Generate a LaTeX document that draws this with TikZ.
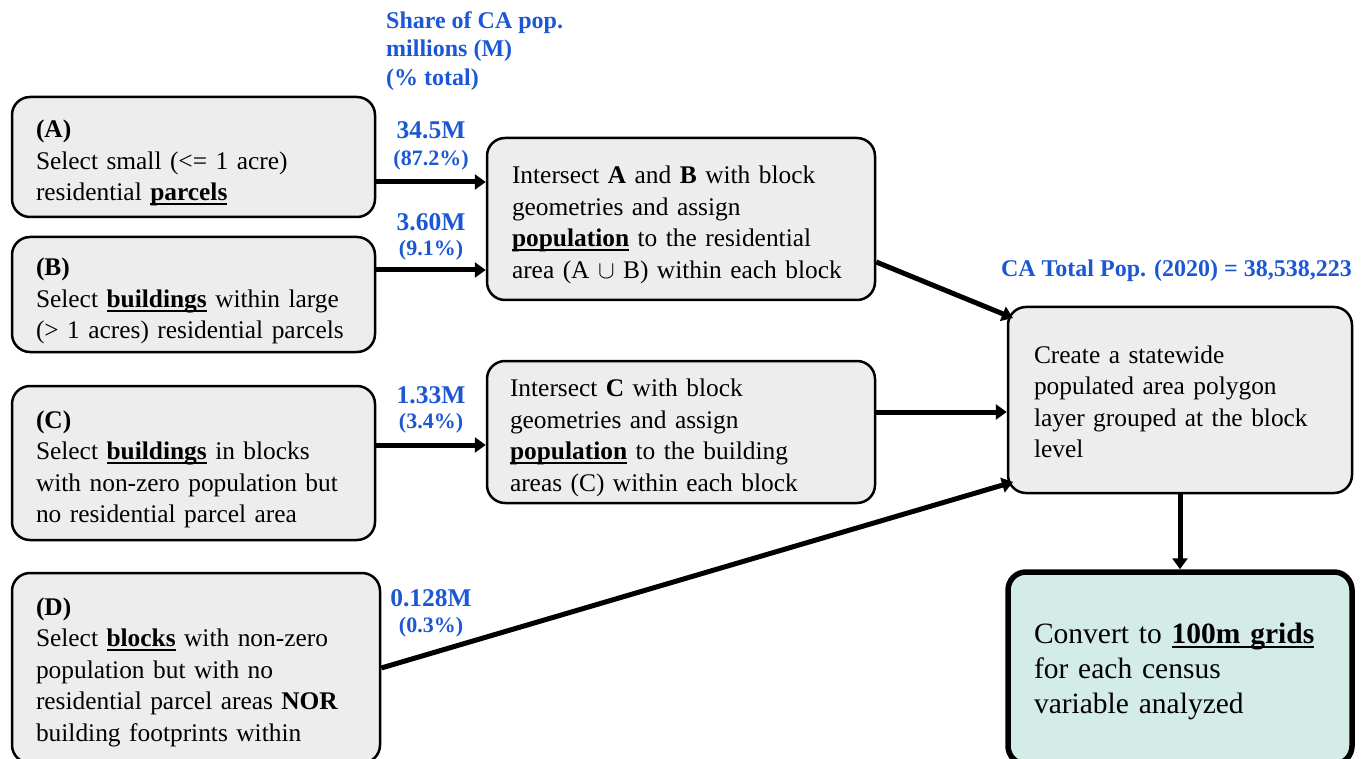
\documentclass[tikz,border=0pt]{standalone}
\usepackage{fontspec}
\setmainfont{Liberation Serif}
\usetikzlibrary{arrows.meta,calc}
\definecolor{lblue}{RGB}{28,88,212}
\definecolor{boxgray}{RGB}{237,237,237}
\definecolor{finalfill}{RGB}{212,236,231}
\newcommand\myul[1]{\leavevmode\setbox0\hbox{#1}\rlap{\rule[-4.5pt]{\wd0}{1.8pt}}\box0\relax}
\newcommand\tstrut[1]{\rule{0pt}{#1}}
\begin{document}
\begin{tikzpicture}[x=1pt,y=-1pt,
 box/.style={draw,line width=2.5pt,rounded corners=18pt,fill=boxgray,align=left,inner ysep=0pt,font=\fontsize{25.4}{31.5}\selectfont},
 flow/.style={line width=5pt,-{Triangle[length=11pt,width=15pt]}},
 num/.style={text=lblue,font=\bfseries\fontsize{25.5}{28}\selectfont,inner sep=0pt},
 pct/.style={text=lblue,font=\bfseries\fontsize{22}{24}\selectfont,inner sep=0pt},
 hdr/.style={text=lblue,font=\bfseries\fontsize{24}{28.5}\selectfont,inner sep=0pt,align=left}]
\useasboundingbox (0,0) rectangle (1368,759);

\node[box,inner xsep=24pt,text width=315pt,minimum width=363pt,minimum height=120pt] (A) at (193.5,157)
 {\tstrut{30pt}\textbf{(A)}\\Select small (<= 1 acre)\\residential \myul{\textbf{parcels}}};
\node[box,inner xsep=24pt,text width=315pt,minimum width=363pt,minimum height=115pt] (B) at (193.5,294.5)
 {\tstrut{31pt}\textbf{(B)}\\Select \myul{\textbf{buildings}} within large\\(> 1 acres) residential parcels};
\node[box,inner xsep=24pt,text width=315pt,minimum width=363pt,minimum height=154pt] (C) at (193.5,463)
 {\tstrut{30pt}\textbf{(C)}\\Select \myul{\textbf{buildings}} in blocks\\with non-zero population but\\no residential parcel area};
\node[box,inner xsep=24pt,text width=320pt,minimum width=368pt,minimum height=190pt] (D) at (196,668)
 {\tstrut{26pt}\textbf{(D)}\\Select \myul{\textbf{blocks}} with non-zero\\population but with no\\residential parcel areas \textbf{NOR}\\building footprints within};
\node[box,inner xsep=25pt,text width=338pt,minimum width=388pt,minimum height=162pt] (M1) at (681,219)
 {\tstrut{29pt}Intersect \textbf{A} and \textbf{B} with block\\geometries and assign\\\myul{\textbf{population}} to the residential\\area (A $\cup$ B) within each block};
\node[box,inner xsep=23pt,text width=342pt,minimum width=388pt,minimum height=142pt] (M2) at (681,432)
 {\tstrut{29pt}Intersect \textbf{C} with block\\geometries and assign\\\myul{\textbf{population}} to the building\\areas (C) within each block};
\node[box,inner xsep=26pt,text width=292pt,minimum width=344pt,minimum height=186pt] (R1) at (1180,400)
 {\tstrut{21pt}Create a statewide\\populated area polygon\\layer grouped at the block\\level};
\node[box,line width=5.5pt,fill=finalfill,inner xsep=26pt,text width=292pt,minimum width=344pt,minimum height=192pt,font=\fontsize{29.5}{35}\selectfont] (R2) at (1180,668)
 {\tstrut{27pt}Convert to \myul{\textbf{100m grids}}\\for each census\\variable analyzed};

\node[hdr,anchor=north west] (H) at (386,11) {Share of CA pop.\\millions (M)\\(\% total)};
\node[num] (nA) at (431,130) {34.5M};
\node[pct] (pA) at (431,160) {(87.2\%)};
\node[num] (nB) at (431,222) {3.60M};
\node[pct] (pB) at (431,250) {(9.1\%)};
\node[num] (nC) at (431,395) {1.33M};
\node[pct] (pC) at (431,423) {(3.4\%)};
\node[num] (nD) at (431,598) {0.128M};
\node[pct] (pD) at (431,627) {(0.3\%)};
\node[hdr,anchor=east] (T) at (1352,271) {CA Total Pop. (2020) = 38,538,223};

\coordinate (r1a) at (1013,318);
\coordinate (r1d) at (1013,482);
\draw[flow] (A.east |- 0,182) -- (M1.west |- 0,182);
\draw[flow] (B.east |- 0,270) -- (M1.west |- 0,270);
\draw[flow] (C.east |- 0,445) -- (M2.west |- 0,445);
\draw[flow] (M1.east |- 0,262) -- (r1a);
\draw[flow] (M2.east |- 0,412) -- (R1.west |- 0,412);
\draw[flow] (D.east |- 0,668) -- (r1d);
\draw[flow] (R1.south) -- (R2.north);
\end{tikzpicture}
\end{document}
